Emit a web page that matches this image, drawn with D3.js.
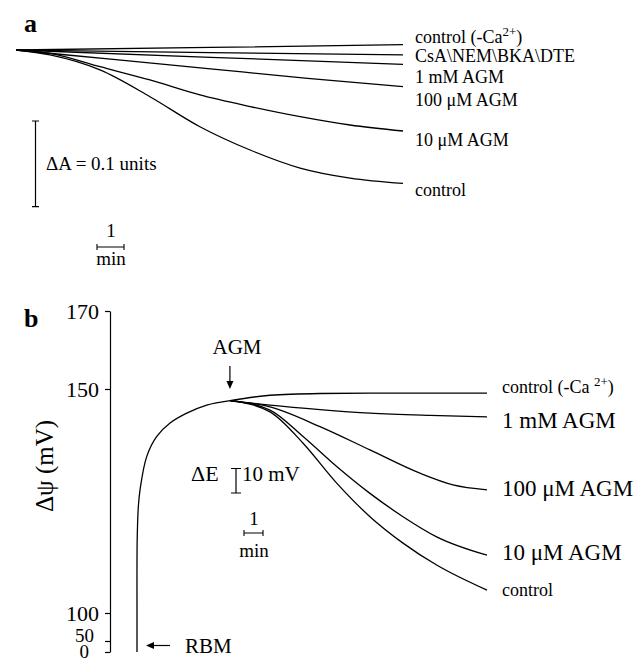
<!DOCTYPE html>
<html lang="en">
<meta charset="UTF-8">
<title>Absorbance and membrane potential traces</title>
<script src="https://d3js.org/d3.v7.min.js"></script>
<style>
body { margin: 0; background: #fff; }
svg text { font-family: "Liberation Serif", "Times New Roman", serif; fill: #000; }
</style>
<body>
<div id="chart"></div>
<script>
// ---- panel a : absorbance change (delta A) vs time (min) ----
var aTime3 = [0, 7.2, 14.33];
var aTime5 = [0, 3.6, 7.2, 10.8, 14.33];
var aTime9 = [0, 1.26, 3.11, 4.96, 6.81, 8.67, 10.52, 12.37, 14.33];
var aCtrlNoCa = [0, 0.003, 0.0062];
var aCsA      = [0, -0.003, -0.0058];
var a1mM      = [0, -0.0085, -0.0167];
var a100uM    = [0, -0.011, -0.022, -0.033, -0.0428];
var a10uM     = [0, -0.0039, -0.0195, -0.035, -0.0525, -0.066, -0.0778, -0.0875, -0.0945];
var aControl  = [0, -0.0058, -0.0233, -0.0545, -0.0895, -0.1167, -0.1377, -0.1494, -0.1556];
var aLabels = ["control (-Ca|2+|)", "CsA\\NEM\\BKA\\DTE", "1 mM AGM", "100 \u03bcM AGM", "10 \u03bcM AGM", "control"];

// ---- panel b : membrane potential (mV) vs time (min) ----
var riseTime = [0, 0, 0, 0.01, 0.07, 0.16, 0.51, 1.04, 1.74, 2.62, 3.67, 4.89];
var riseMv   = [0, 50, 100, 116.3, 123.7, 127.5, 134.9, 139.4, 142.4, 144.6, 146.4, 147.4];
var bTime5 = [4.89, 7.0, 9.63, 12.26, 18.42];
var bTime6 = [4.89, 7.0, 9.63, 12.26, 15.42, 18.42];
var bTime7 = [4.89, 7.0, 9.63, 12.26, 14.89, 16.63, 18.42];
var bTime8 = [4.89, 7.0, 8.74, 10.51, 12.26, 14.0, 15.77, 18.42];
var bCtrlNoCa = [147.4, 148.6, 149.0, 149.1, 149.1];
var b1mM      = [147.4, 146.4, 145.4, 144.6, 144.1, 143.8];
var b100uM    = [147.4, 146.0, 141.6, 136.4, 131.2, 128.6, 127.5];
var b10uM     = [147.4, 145.3, 139.4, 132.7, 126.7, 121.5, 117.0, 112.9];
var bControl  = [147.4, 144.9, 137.9, 129.0, 121.5, 115.6, 110.7, 105.1];
var bLabels = ["control (-Ca |2+|)", "1 mM AGM", "100 \u03bcM AGM", "10 \u03bcM AGM", "control"];
var yTicks = [0, 50, 100, 150, 170];

function zip(t, v) { return t.map(function(d, i) { return [d, v[i]]; }); }

var svg = d3.select("#chart").append("svg")
    .attr("width", 638)
    .attr("height", 659);

// label with optional superscript, "|" marks the superscript part
function addLabel(g, str, x, y, size) {
  var parts = str.split("|");
  var t = g.append("text").attr("x", x).attr("y", y).style("font-size", size + "px");
  parts.forEach(function(p, i) {
    var s = t.append("tspan").text(p);
    if (i === 1) s.attr("dy", -size * 0.4).style("font-size", (size * 0.72) + "px");
    if (i === 2) s.attr("dy", size * 0.4);
  });
}

// ================= panel a =================
var xA = d3.scaleLinear().domain([0, 14.33]).range([16, 403]);
var yA = d3.scaleLinear().domain([0, -0.1]).range([50, 135.7]);
var lineA = d3.line()
    .x(function(d) { return xA(d[0]); })
    .y(function(d) { return yA(d[1]); })
    .curve(d3.curveMonotoneX);

var ga = svg.append("g");
var seriesA = [zip(aTime3, aCtrlNoCa), zip(aTime3, aCsA), zip(aTime3, a1mM),
               zip(aTime5, a100uM), zip(aTime9, a10uM), zip(aTime9, aControl)];
ga.selectAll("path.trace")
    .data(seriesA)
  .enter().append("path")
    .attr("class", "trace")
    .attr("d", lineA)
    .attr("fill", "none")
    .attr("stroke", "#000")
    .attr("stroke-width", 1.3);

var aLabelY = [43, 62, 83, 106, 146, 196];
aLabels.forEach(function(l, i) { addLabel(ga, l, 415, aLabelY[i], 18); });

ga.append("text").attr("x", 24).attr("y", 32)
    .style("font-size", "26px").style("font-weight", "bold").text("a");

// vertical scale bar 0.1 units
var barTop = 121;
var barLen = yA(-0.1) - yA(0);
ga.append("path")
    .attr("d", "M32," + barTop + "H39M35.5," + barTop + "V" + (barTop + barLen) + "M32," + (barTop + barLen) + "H39")
    .attr("fill", "none").attr("stroke", "#000").attr("stroke-width", 1.2);
ga.append("text").attr("x", 46).attr("y", 169.5).style("font-size", "19px").text("\u0394A = 0.1 units");

// 1 min bar
var minLenA = xA(1) - xA(0);
ga.append("path")
    .attr("d", "M97,244V250M97,247H" + (97 + minLenA) + "M" + (97 + minLenA) + ",244V250")
    .attr("fill", "none").attr("stroke", "#000").attr("stroke-width", 1.1);
ga.append("text").attr("x", 111).attr("y", 237).attr("text-anchor", "middle").style("font-size", "19px").text("1");
ga.append("text").attr("x", 111).attr("y", 265).attr("text-anchor", "middle").style("font-size", "19px").text("min");

// ================= panel b =================
var xB = d3.scaleLinear().domain([0, 18.42]).range([137, 487]);
var yB = d3.scaleLinear().domain([0, 50, 100, 150, 170]).range([652, 641, 613, 389, 311]);

var gb = svg.append("g");

gb.append("g")
    .attr("transform", "translate(110,0)")
    .call(d3.axisLeft(yB).tickValues(yTicks).tickSize(5).tickSizeOuter(0).tickPadding(6).tickFormat(d3.format("d")))
    .call(function(g) {
      g.select(".domain").attr("stroke-width", 1.2);
      g.selectAll(".tick line").attr("stroke-width", 1.2);
      g.selectAll(".tick text")
          .style("font-family", "Liberation Serif, serif")
          .style("font-size", "22px");
      // the compressed bottom ticks carry smaller, staggered labels
      g.selectAll(".tick text").filter(function(d) { return d === 0; })
          .style("font-size", "19px").attr("dx", -10).attr("dy", "0.3em");
      g.selectAll(".tick text").filter(function(d) { return d === 50; })
          .style("font-size", "19px").attr("dx", -5).attr("dy", "0.05em");
    });

gb.append("text")
    .attr("transform", "translate(53,466) rotate(-90)")
    .attr("text-anchor", "middle")
    .style("font-size", "25px")
    .text("\u0394\u03c8 (mV)");

gb.append("text").attr("x", 24).attr("y", 327)
    .style("font-size", "26px").style("font-weight", "bold").text("b");

var lineRise = d3.line()
    .x(function(d) { return xB(d[0]); })
    .y(function(d) { return yB(d[1]); })
    .curve(d3.curveCatmullRom.alpha(0.5));
var lineB = d3.line()
    .x(function(d) { return xB(d[0]); })
    .y(function(d) { return yB(d[1]); })
    .curve(d3.curveMonotoneX);

gb.append("path")
    .attr("d", lineRise(zip(riseTime, riseMv)))
    .attr("fill", "none").attr("stroke", "#000").attr("stroke-width", 1.3);

var seriesB = [zip(bTime5, bCtrlNoCa), zip(bTime6, b1mM), zip(bTime7, b100uM),
               zip(bTime8, b10uM), zip(bTime8, bControl)];
gb.selectAll("path.trace")
    .data(seriesB)
  .enter().append("path")
    .attr("class", "trace")
    .attr("d", lineB)
    .attr("fill", "none")
    .attr("stroke", "#000")
    .attr("stroke-width", 1.3);

var bLabelY = [393, 428, 496, 559.5, 596];
var bLabelSize = [18, 23, 23, 23, 18];
bLabels.forEach(function(l, i) { addLabel(gb, l, 502, bLabelY[i], bLabelSize[i]); });

// AGM arrow
var agmX = xB(4.89);
gb.append("line").attr("x1", agmX).attr("x2", agmX).attr("y1", 366).attr("y2", 383)
    .attr("stroke", "#000").attr("stroke-width", 1.2);
gb.append("path").attr("d", "M" + (agmX - 3.5) + ",381L" + (agmX + 3.5) + ",381L" + agmX + ",389Z").attr("fill", "#000");
gb.append("text").attr("x", 237).attr("y", 354).attr("text-anchor", "middle").style("font-size", "21px").text("AGM");

// RBM arrow
gb.append("line").attr("x1", 152).attr("x2", 170).attr("y1", 645.5).attr("y2", 645.5)
    .attr("stroke", "#000").attr("stroke-width", 1.2);
gb.append("path").attr("d", "M146,645.5L154,642L154,649Z").attr("fill", "#000");
gb.append("text").attr("x", 185).attr("y", 652.5).style("font-size", "21px").text("RBM");

// delta E scale bar (10 mV)
gb.append("path")
    .attr("d", "M231,468.5H241M236,468.5V493M231,493H241")
    .attr("fill", "none").attr("stroke", "#000").attr("stroke-width", 1.2);
gb.append("text").attr("x", 191).attr("y", 480.5).style("font-size", "22px").text("\u0394E");
gb.append("text").attr("x", 242).attr("y", 480.5).style("font-size", "21px").text("10 mV");

// 1 min bar
var minLenB = xB(1) - xB(0);
gb.append("path")
    .attr("d", "M244,530V536M244,533H" + (244 + minLenB) + "M" + (244 + minLenB) + ",530V536")
    .attr("fill", "none").attr("stroke", "#000").attr("stroke-width", 1.1);
gb.append("text").attr("x", 254).attr("y", 525).attr("text-anchor", "middle").style("font-size", "19px").text("1");
gb.append("text").attr("x", 254).attr("y", 556.5).attr("text-anchor", "middle").style("font-size", "19px").text("min");
</script>
</body>
</html>
